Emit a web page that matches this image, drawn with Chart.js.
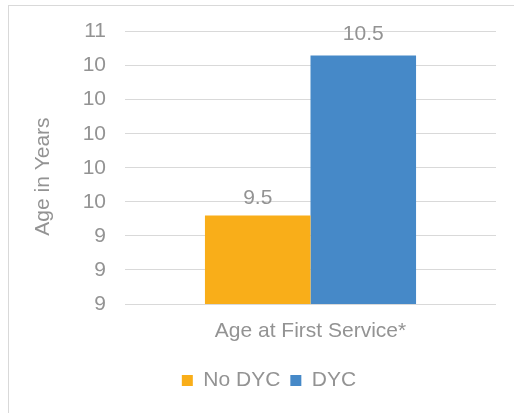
<!DOCTYPE html>
<html>
<head>
<meta charset="utf-8">
<script src="https://cdn.jsdelivr.net/npm/chart.js@4"></script>
<style>
  html, body { margin: 0; padding: 0; background: #fff; overflow: hidden; }
  #wrap { position: relative; width: 514px; height: 413px; }
  #frame { position: absolute; left: 8px; top: 5px; width: 600px; height: 500px; border: 1px solid #d9d9d9; }
  canvas { position: absolute; left: 0; top: 0; }
</style>
</head>
<body>
<div id="wrap">
  <div id="frame"></div>
  <canvas id="myChart" width="514" height="413"></canvas>
</div>
<script>
// data
let categories = ['Age at First Service*'];
let seriesNames = ['No DYC', 'DYC'];
let noDyc = [9.52];
let dyc = [10.46];
let yMin = 9.0;
let yMax = 10.6;
let yStep = 0.2;

let grey = '#939393';
let font = 'Arial, "Liberation Sans", sans-serif';

// value labels above the bars
let barLabels = {
    id: 'barLabels',
    afterDatasetsDraw(chart) {
        let ctx = chart.ctx;
        ctx.save();
        ctx.font = '21px ' + font;
        ctx.fillStyle = grey;
        ctx.textAlign = 'center';
        ctx.textBaseline = 'middle';
        chart.data.datasets.forEach((ds, i) => {
            let meta = chart.getDatasetMeta(i);
            meta.data.forEach((bar, j) => {
                ctx.fillText(ds.data[j].toFixed(1), bar.x, bar.y - ds.labelOffset);
            });
        });
        ctx.restore();
    }
};

let ctx = document.getElementById('myChart').getContext('2d');
let myChart = new Chart(ctx, {
    type: 'bar',
    data: {
        labels: categories,
        datasets: [{
            label: seriesNames[0],
            data: noDyc,
            backgroundColor: '#f9ae19',
            borderWidth: 0,
            labelOffset: 17
        }, {
            label: seriesNames[1],
            data: dyc,
            backgroundColor: '#4689c8',
            borderWidth: 0,
            labelOffset: 21
        }]
    },
    options: {
        responsive: false,
        animation: false,
        layout: { padding: { left: 42, right: 18, top: 30, bottom: 12 } },
        datasets: { bar: { categoryPercentage: 0.569, barPercentage: 1 } },
        plugins: {
            legend: {
                position: 'bottom',
                labels: {
                    boxWidth: 11,
                    boxHeight: 11,
                    padding: 10,
                    color: grey,
                    font: { family: font, size: 21 }
                }
            },
            tooltip: { enabled: false }
        },
        scales: {
            x: {
                grid: { display: false, drawTicks: false },
                border: { display: false },
                ticks: { color: grey, padding: 15, font: { family: font, size: 21 } },
                afterFit(scale) { scale.height = 56; }
            },
            y: {
                min: yMin,
                max: yMax,
                grid: { color: '#d9d9d9', drawTicks: false },
                border: { display: false },
                ticks: {
                    stepSize: yStep,
                    color: grey,
                    padding: 19,
                    font: { family: font, size: 21 },
                    callback: (v) => Math.round(v)
                },
                title: {
                    display: true,
                    text: 'Age in Years   ',
                    color: grey,
                    font: { family: font, size: 21 },
                    padding: { top: -11, bottom: 0 }
                },
                afterFit(scale) { scale.width = 83; }
            }
        }
    },
    plugins: [barLabels]
});
</script>
</body>
</html>
